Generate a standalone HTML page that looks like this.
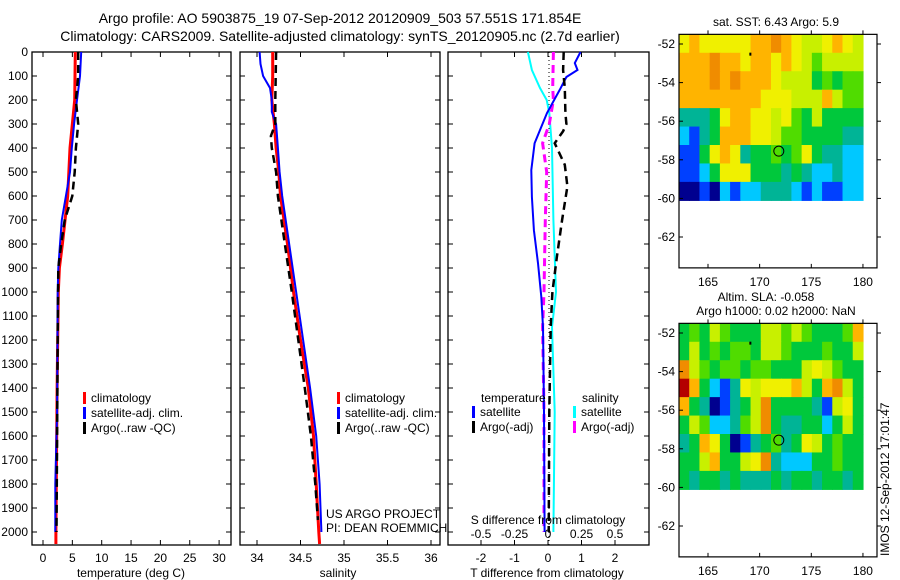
<!DOCTYPE html>
<html><head><meta charset="utf-8">
<style>
html,body{margin:0;padding:0;background:#fff;}
svg{display:block;font-family:"Liberation Sans",sans-serif;}
text{fill:#000;}
</style></head>
<body>
<svg id="fig" width="900" height="580" viewBox="0 0 900 580" xmlns="http://www.w3.org/2000/svg">
<text x="340" y="23" font-size="14" text-anchor="middle">Argo profile: AO 5903875_19 07-Sep-2012 20120909_503 57.551S 171.854E</text>
<text x="340" y="41" font-size="14" text-anchor="middle">Climatology: CARS2009. Satellite-adjusted climatology: synTS_20120905.nc (2.7d earlier)</text>
<g id="p1"></g>
<g id="p2"></g>
<g id="p3"></g>
<g id="m1"></g>
<g id="m2"></g>
<text x="776" y="26" font-size="12" text-anchor="middle">sat. SST: 6.43 Argo: 5.9</text>
<text x="766" y="301" font-size="12" text-anchor="middle">Altim. SLA: -0.058</text>
<text x="776" y="315" font-size="12" text-anchor="middle">Argo h1000: 0.02 h2000: NaN</text>
<text transform="translate(889,556) rotate(-90)" font-size="12">IMOS 12-Sep-2012 17:01:47</text>
</svg>
<script>
// ---- data ----
const depthsClimT = [0,200,400,600,800,900,1000,1400,2000,2050];
const tempClim    = [5.5,5.4,4.6,4.2,3.3,2.8,2.6,2.4,2.2,2.2];
const depthsSatT  = [0,100,200,300,400,500,600,700,800,900,1000,1500,1800,2000];
const tempSat     = [6.5,6.3,5.8,5.3,4.9,4.6,3.9,3.2,2.9,2.6,2.5,2.4,2.1,2.1];
const depthsArgoT = [0,100,200,300,400,500,600,700,800,900,1200,2000];
const tempArgo    = [6.0,6.0,5.6,6.0,5.6,5.4,5.0,3.7,3.1,2.6,2.5,2.3];

const depthsClimS = [0,100,200,300,400,500,600,800,1000,1200,1400,1600,1800,2000,2050];
const salClim     = [34.18,34.18,34.17,34.2,34.22,34.25,34.27,34.35,34.42,34.5,34.59,34.65,34.68,34.71,34.72];
const depthsSatS  = [0,50,100,150,200,250,300,400,500,600,1400,1600,1800,2000];
const salSat      = [34.03,34.04,34.07,34.15,34.17,34.17,34.22,34.24,34.26,34.29,34.61,34.68,34.72,34.74];
const depthsArgoS = [0,200,300,350,400,500,600,1000,1400,1600,1800,1950];
const salArgo     = [34.22,34.21,34.21,34.16,34.17,34.22,34.24,34.40,34.55,34.62,34.67,34.70];

const depthsDT    = [0,46,75,104,158,254,380,492,604,742,880,1020,1146,1500,2000];
const dTsat       = [0.97,0.8,0.88,0.55,0.35,-0.03,-0.4,-0.5,-0.48,-0.42,-0.3,-0.2,-0.15,-0.12,-0.1];
const depthsDTa   = [0,75,150,254,300,330,380,470,560,700,850,1000,1146,1500,2000];
const dTargo      = [0.47,0.45,0.5,0.52,0.55,0.45,0.2,0.5,0.58,0.42,0.27,0.13,0.08,0.04,0.02];
const depthsDS    = [0,75,150,200,254,400,700,850,1000,1146,1500,2000];
const dSsat       = [-0.15,-0.12,-0.06,-0.01,0.01,0.03,0.04,0.05,0.06,0.03,0.05,0.04];
const depthsDSa   = [0,150,200,300,380,500,700,1000,1146,1500,2000];
const dSargo      = [0.04,0.035,0.04,0.01,-0.04,-0.01,-0.02,-0.03,-0.04,-0.03,-0.03];

const tempTicks = [0,5,10,15,20,25,30];
const salTicks  = [34,34.5,35,35.5,36];
const dTTicks   = [-2,-1,0,1,2];
const dSTicks   = [-0.5,-0.25,0,0.25,0.5];
const dSTickLabels = ["-0.5","-0.25","0","0.25","0.5"];
const depthTicks = [0,100,200,300,400,500,600,700,800,900,1000,1100,1200,1300,1400,1500,1600,1700,1800,1900,2000];

const sstGrid = [
"YoYYYYYooOoYyyYoYy",
"oooOooYooYoYyGyyyy",
"oooOoOoooYyyygGgGG",
"ooooooooYYYyyyoyGG",
"tttgYooYYyYGgygggg",
"cBtgoooYYyGGggggtt",
"BBgYoYtggGgGYgttcc",
"BBcgYYYgggtgtcctcc",
"bbBbcBcctttcBcBBcc"];
const slaGrid = [
"gGgyGgggyyGyGgggGo",
"gygGgGGgyyGgggGggy",
"OyGgGGgGGgggyYyGgg",
"rogcBtYyYYYoygoOyg",
"ogtbBtgyOggggtByYg",
"gyGcctGyOgttggcgyg",
"tgoYgbBtgGtgYygGgg",
"ggyoggyYOtcccggGgg",
"gtggtgtttgtggtggtg"];
const mapLatTicks=[-52,-54,-56,-58,-60,-62];
const mapLonTicks=[165,170,175,180];
const argoLon=171.854, argoLat=-57.551;

// ---- helpers ----
const NS="http://www.w3.org/2000/svg";
function el(parent,tag,attrs){const e=document.createElementNS(NS,tag);for(const k in attrs)e.setAttribute(k,attrs[k]);parent.appendChild(e);return e;}
const yTop=52, yBot=545;
function yD(d){return 52+d*0.24;}

function frame(g,x0,x1,name){
  const r=el(g,'rect',{x:x0,y:yTop,width:x1-x0,height:yBot-yTop,fill:'none',stroke:'#000','stroke-width':1.3});
  
  
  depthTicks.forEach(d=>{
    el(g,'line',{x1:x0,x2:x0+5,y1:yD(d),y2:yD(d),stroke:'#000'});
    el(g,'line',{x1:x1,x2:x1-5,y1:yD(d),y2:yD(d),stroke:'#000'});
  });
}
function line(g,xs,ds,sx,color,w,dash,name){
  const pts=xs.map((v,i)=>sx(v).toFixed(1)+','+yD(ds[i]).toFixed(1)).join(' ');
  const p=el(g,'polyline',{points:pts,fill:'none',stroke:color,'stroke-width':w});
  if(dash)p.setAttribute('stroke-dasharray',dash);
  
  
}
function xTicks(g,vals,labels,sx,yLab,top,bottom){
  vals.forEach((v,i)=>{
    const x=sx(v);
    if(top)el(g,'line',{x1:x,x2:x,y1:yTop,y2:yTop+5,stroke:'#000'});
    if(bottom)el(g,'line',{x1:x,x2:x,y1:yBot,y2:yBot-5,stroke:'#000'});
    if(yLab){const t=el(g,'text',{x:x,y:yLab,'font-size':12,'text-anchor':'middle'});t.textContent=labels[i];
    
    }
  });
}
function legend(g,x,y,items){
  items.forEach((it,i)=>{
    el(g,'rect',{x:x,y:y+i*15-10,width:3,height:12,fill:it[0]});
    const t=el(g,'text',{x:x+8,y:y+i*15,'font-size':12});t.textContent=it[1];
    
    
  });
}

// ---- panel 1 ----
const g1=document.getElementById('p1');
const sT=v=>43+5.87*v;
frame(g1,32,231,'temperature');
depthTicks.forEach(d=>{const t=el(g1,'text',{x:28,y:yD(d)+4,'font-size':12,'text-anchor':'end'});t.textContent=d;

});
xTicks(g1,tempTicks,tempTicks.map(String),sT,562,true,true);
line(g1,tempClim,depthsClimT,sT,'#f00',3,null,'temp-climatology-line');
line(g1,tempSat,depthsSatT,sT,'#00f',2,null,'temp-satellite-line');
line(g1,tempArgo,depthsArgoT,sT,'#000',2.5,'8,5','temp-argo-line');
legend(g1,83,402,[['#f00','climatology'],['#00f','satellite-adj. clim.'],['#000','Argo(..raw -QC)']]);
{const t=el(g1,'text',{x:131,y:577,'font-size':12,'text-anchor':'middle'});t.textContent='temperature (deg C)';

}

// ---- panel 2 ----
const g2=document.getElementById('p2');
const sS=v=>257+87*(v-34);
frame(g2,240,440,'salinity');
xTicks(g2,salTicks,salTicks.map(String),sS,562,true,true);
line(g2,salClim,depthsClimS,sS,'#f00',3,null,'sal-climatology-line');
line(g2,salSat,depthsSatS,sS,'#00f',2,null,'sal-satellite-line');
line(g2,salArgo,depthsArgoS,sS,'#000',2.5,'8,5','sal-argo-line');
legend(g2,337,402,[['#f00','climatology'],['#00f','satellite-adj. clim.'],['#000','Argo(..raw -QC)']]);
{const t=el(g2,'text',{x:326,y:518,'font-size':12});t.textContent='US ARGO PROJECT';


const t2=el(g2,'text',{x:326,y:532,'font-size':12});t2.textContent='PI: DEAN ROEMMICH';


const t3=el(g2,'text',{x:338,y:577,'font-size':12,'text-anchor':'middle'});t3.textContent='salinity';

}

// ---- panel 3 ----
const g3=document.getElementById('p3');
const sDT=v=>548+33.5*v;
const sDS=v=>548+134*v;
frame(g3,448,649,'difference');
el(g3,'line',{x1:549,x2:549,y1:yTop,y2:yBot,stroke:'#000','stroke-dasharray':'1,3'});
xTicks(g3,dTTicks,dTTicks.map(String),sDT,562,true,true);
dSTicks.forEach((v,i)=>{const t=el(g3,'text',{x:sDS(v),y:538,'font-size':12,'text-anchor':'middle'});t.textContent=dSTickLabels[i];

});
line(g3,dSsat,depthsDS,sDS,'#0ff',2,null,'sdiff-satellite-line');
line(g3,dSargo,depthsDSa,sDS,'#f0f',3,'8,5','sdiff-argo-line');
line(g3,dTsat,depthsDT,sDT,'#00f',2,null,'tdiff-satellite-line');
line(g3,dTargo,depthsDTa,sDT,'#000',2.5,'8,5','tdiff-argo-line');
{const t=el(g3,'text',{x:481,y:402,'font-size':12});t.textContent='temperature';


const t2=el(g3,'text',{x:582,y:402,'font-size':12});t2.textContent='salinity';

}
legend(g3,472,416,[['#00f','satellite'],['#000','Argo(-adj)']]);
legend(g3,573,416,[['#0ff','satellite'],['#f0f','Argo(-adj)']]);
{const t=el(g3,'text',{x:548,y:524,'font-size':12,'text-anchor':'middle'});t.textContent='S difference from climatology';


const t2=el(g3,'text',{x:547,y:577,'font-size':12,'text-anchor':'middle'});t2.textContent='T difference from climatology';

}

// ---- maps ----
const colors={b:'#00008f',B:'#0040ff',c:'#00c8ff',t:'#00b496',g:'#00c83c',G:'#50dc00',y:'#c8f000',Y:'#f0f000',o:'#ffb400',O:'#f08c00',r:'#b40000'};
function map(id,grid,yTopPx,latTopTick){
  const g=document.getElementById(id);
  const x0=679,x1=877;
  const lonX=l=>708+(l-165)*10.33;
  const latY=l=>yTopPx+(latTopTick-l)*19.3;
  const yAxTop=latY(-51.5), yAxBot=latY(-63.6);
  const dataBot=latY(-60.1), dataR=lonX(180);
  const rows=grid.length, cols=grid[0].length;
  const cw=(dataR-x0)/cols, ch=(dataBot-yAxTop)/rows;
  grid.forEach((row,r)=>{for(let c=0;c<cols;c++){
    const rc=el(g,'rect',{x:(x0+c*cw).toFixed(2),y:(yAxTop+r*ch).toFixed(2),width:(cw+0.6).toFixed(2),height:(ch+0.6).toFixed(2),fill:colors[row[c]]});
  }});
  const fr=el(g,'rect',{x:x0,y:yAxTop,width:x1-x0,height:yAxBot-yAxTop,fill:'none',stroke:'#000','stroke-width':1.2});
  
  
  mapLatTicks.forEach(l=>{const y=latY(l);
    el(g,'line',{x1:x0,x2:x0+4,y1:y,y2:y,stroke:'#000'});
    el(g,'line',{x1:x1,x2:x1+4,y1:y,y2:y,stroke:'#000'});
    const t=el(g,'text',{x:x0-4,y:y+4,'font-size':12,'text-anchor':'end'});t.textContent=l;
    
    });
  mapLonTicks.forEach(l=>{const x=lonX(l);
    el(g,'line',{x1:x,x2:x,y1:yAxTop,y2:yAxTop-4,stroke:'#000'});
    el(g,'line',{x1:x,x2:x,y1:yAxBot,y2:yAxBot-4,stroke:'#000'});
    const t=el(g,'text',{x:x,y:yAxBot+18,'font-size':12,'text-anchor':'middle'});t.textContent=l;
    
    });
  const c=el(g,'circle',{cx:lonX(argoLon),cy:latY(argoLat),r:5,fill:'none',stroke:'#000','stroke-width':1});
  
  
  el(g,'rect',{x:lonX(169.1)-1,y:latY(-52.5)-1,width:2,height:3,fill:'#000'});
}
map('m1',sstGrid,44,-52);
map('m2',slaGrid,333,-52);
</script>
</body></html>
